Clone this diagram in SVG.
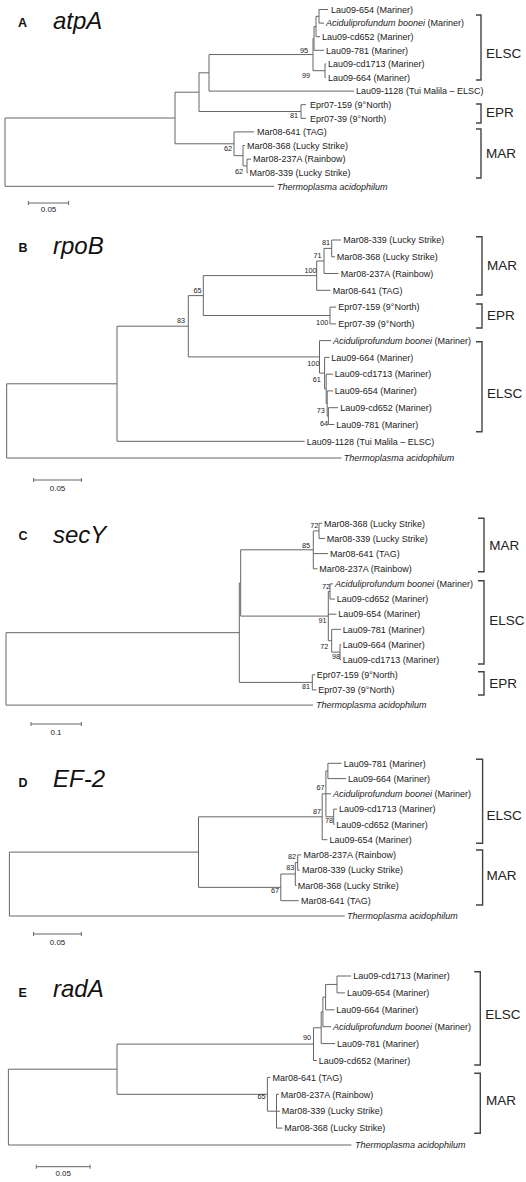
<svg xmlns="http://www.w3.org/2000/svg" width="526" height="1182" viewBox="0 0 526 1182">
<style>
.t{font-family:"Liberation Sans",Arial,sans-serif;font-size:9px;fill:#222}
.i{font-style:italic}
.b{font-family:"Liberation Sans",Arial,sans-serif;font-size:7.3px;fill:#222;text-anchor:end}
.c{font-family:"Liberation Sans",Arial,sans-serif;font-size:13.5px;fill:#222}
.ttl{font-family:"Liberation Sans",Arial,sans-serif;font-size:24px;font-style:italic;fill:#111}
.let{font-family:"Liberation Sans",Arial,sans-serif;font-size:12.5px;font-weight:bold;fill:#111}
.sc{font-family:"Liberation Sans",Arial,sans-serif;font-size:8px;fill:#222;text-anchor:middle}
.br{fill:none;stroke:#444;stroke-width:1.4}
.ln{fill:none;stroke:#666;stroke-width:1}
</style>
<rect width="526" height="1182" fill="#fff"/>

<g id="connectors">
<path id="treeA" class="ln" d="M319,9.5V23.1M319,9.5H328M319,23.1H324M316,16.3V36.7M316,16.3H319M316,36.7H320M314,26.5V50.3M314,26.5H316M314,50.3H324M325,63.9V77.5M325,63.9H326M325,77.5H326M313,38.4V70.7M313,38.4H314M313,70.7H325M209,54.55V91.1M209,54.55H313M209,91.1H354M301,104.7V118.3M301,104.7H306M301,118.3H306M199,72.8V111.5M199,72.8H209M199,111.5H301M247,159.1V172.7M247,159.1H251M247,172.7H248M243,145.5V165.9M243,145.5H245M243,165.9H247M234,131.9V155.7M234,131.9H254M234,155.7H243M175,92.2V143.8M175,92.2H199M175,143.8H234M5,118V186.3M5,118H175M5,186.3H274"/>
<path id="treeB" class="ln" d="M331.7,240V256.8M331.7,240H341M331.7,256.8H335M324,248.4V273.5M324,248.4H331.7M324,273.5H338.5M316.7,261V290.3M316.7,261H324M316.7,290.3H330.5M330,307.1V323.9M330,307.1H336M330,323.9H336M203.3,275.6V315.5M203.3,275.6H316.7M203.3,315.5H330M328.4,407.7V424.5M328.4,407.7H338M328.4,424.5H334.3M327.2,390.9V416.1M327.2,390.9H333M327.2,416.1H328.4M326.2,374.2V403.5M326.2,374.2H333M326.2,403.5H327.2M324.6,357.4V388.9M324.6,357.4H329.5M324.6,388.9H326.2M319.5,340.6V373.1M319.5,340.6H331M319.5,373.1H324.6M188.3,295.6V356.9M188.3,295.6H203.3M188.3,356.9H319.5M117,326.2V441.3M117,326.2H188.3M117,441.3H304.7M6.7,383.8V458M6.7,383.8H117M6.7,458H341.5"/>
<path id="treeC" class="ln" d="M319,523.3V538.45M319,523.3H322M319,538.45H325M313.3,530.9V568.75M313.3,530.9H319M313.3,553.6H328M313.3,568.75H317.5M330,583.9V599.05M330,583.9H333M330,599.05H335M340,644.5V659.65M340,644.5H341M340,659.65H341M331.7,629.35V652.1M331.7,629.35H341M331.7,652.1H340M328.3,591.5V640.7M328.3,591.5H330M328.3,614.2H336.5M328.3,640.7H331.7M240.7,549.8V616.1M240.7,549.8H313.3M240.7,616.1H328.3M312.3,674.8V689.95M312.3,674.8H315M312.3,689.95H316.5M239.3,583V682.4M239.3,583H240.7M239.3,682.4H312.3M6,632.7V705.1M6,632.7H239.3M6,705.1H313"/>
<path id="treeD" class="ln" d="M327.9,763.3V778.6M327.9,763.3H341.5M327.9,778.6H346M333.7,809.1V824.4M333.7,809.1H337M333.7,824.4H334.5M325.9,770.95V816.75M325.9,770.95H327.9M325.9,793.8H331M325.9,816.75H333.7M322.2,793.85V839.7M322.2,793.85H325.9M322.2,839.7H327.4M297.7,854.9V870.2M297.7,854.9H301.2M297.7,870.2H299.7M295.3,862.55V885.5M295.3,862.55H297.7M295.3,885.5H296.6M280.8,874V900.7M280.8,874H295.3M280.8,900.7H298.7M198.5,816.8V887.35M198.5,816.8H322.2M198.5,887.35H280.8M9.4,852.1V916M9.4,852.1H198.5M9.4,916H344.8"/>
<path id="treeE" class="ln" d="M337,976V992.9M337,976H351.1M337,992.9H345M325.6,984.45V1009.8M325.6,984.45H337M325.6,1009.8H334.5M322.9,997.1V1026.7M322.9,997.1H325.6M322.9,1026.7H331M321.2,1011.9V1043.6M321.2,1011.9H322.9M321.2,1043.6H335M313.5,1027.75V1060.5M313.5,1027.75H321.2M313.5,1060.5H316.8M276.5,1094.3V1128.1M276.5,1094.3H279M276.5,1111.2H280M276.5,1128.1H282.5M267.4,1077.4V1111.2M267.4,1077.4H270.4M267.4,1111.2H276.5M117,1044.1V1094.3M117,1044.1H313.5M117,1094.3H267.4M8.4,1069.2V1145M8.4,1069.2H117M8.4,1145H351.4"/>
<path id="scalebars" class="ln" d="M28.3,203H68.6M28.3,201V205M68.6,201V205M33.6,480H81.4M33.6,478V482M81.4,478V482M31,724H81.4M31,722V726M81.4,722V726M33.6,934H81.4M33.6,932V936M81.4,932V936M36.3,1166.7H90.1M36.3,1164.7V1168.7M90.1,1164.7V1168.7"/>
</g>

<!-- Panel A -->
<g id="panelA-title"><text class="let" x="18" y="26.5">A</text><text class="ttl" x="53" y="29">atpA</text></g>
<g id="A-leaves">
<g id="A-lau654"><text class="t" x="331" y="12.7">Lau09-654 (Mariner)</text></g>
<g id="A-acid"><text class="t" x="326" y="26.3"><tspan class="i">Aciduliprofundum boonei</tspan> (Mariner)</text></g>
<g id="A-cd652"><text class="t" x="322" y="39.9">Lau09-cd652 (Mariner)</text></g>
<g id="A-lau781"><text class="t" x="326" y="53.5">Lau09-781 (Mariner)</text></g>
<g id="A-cd1713"><text class="t" x="328" y="67.1">Lau09-cd1713 (Mariner)</text></g>
<g id="A-lau664"><text class="t" x="328" y="80.7">Lau09-664 (Mariner)</text></g>
<g id="A-lau1128"><text class="t" x="356" y="94.3">Lau09-1128 (Tui Malila – ELSC)</text></g>
<g id="A-epr159"><text class="t" x="310" y="107.9">Epr07-159 (9°North)</text></g>
<g id="A-epr39"><text class="t" x="310" y="121.5">Epr07-39 (9°North)</text></g>
<g id="A-mar641"><text class="t" x="257" y="135.1">Mar08-641 (TAG)</text></g>
<g id="A-mar368"><text class="t" x="247" y="148.7">Mar08-368 (Lucky Strike)</text></g>
<g id="A-mar237"><text class="t" x="253" y="162.3">Mar08-237A (Rainbow)</text></g>
<g id="A-mar339"><text class="t" x="249.5" y="175.9">Mar08-339 (Lucky Strike)</text></g>
<g id="A-thermo"><text class="t i" x="277" y="189.5">Thermoplasma acidophilum</text></g>
</g>
<g id="A-boot"><text class="b" x="308" y="52.5">95</text><text class="b" x="310" y="77.5">99</text><text class="b" x="298" y="117.5">81</text><text class="b" x="232" y="150.8">62</text><text class="b" x="243" y="173.5">62</text></g>
<g id="A-ELSC"><path class="br" d="M476,15H481V80H476"/><text class="c" x="486" y="57.7">ELSC</text></g>
<g id="A-EPR"><path class="br" d="M476,104H481V123H476"/><text class="c" x="486" y="116.7">EPR</text></g>
<g id="A-MAR"><path class="br" d="M476,129H481V178H476"/><text class="c" x="486" y="157.7">MAR</text></g>
<g id="A-scale"><text class="sc" x="48.5" y="212">0.05</text></g>

<!-- Panel B -->
<g id="panelB-title"><text class="let" x="18.5" y="252">B</text><text class="ttl" x="53" y="254">rpoB</text></g>
<g id="B-leaves">
<g id="B-mar339"><text class="t" x="343.3" y="243.2">Mar08-339 (Lucky Strike)</text></g>
<g id="B-mar368"><text class="t" x="336.7" y="260">Mar08-368 (Lucky Strike)</text></g>
<g id="B-mar237"><text class="t" x="340.7" y="276.7">Mar08-237A (Rainbow)</text></g>
<g id="B-mar641"><text class="t" x="332.7" y="293.5">Mar08-641 (TAG)</text></g>
<g id="B-epr159"><text class="t" x="338.3" y="310.3">Epr07-159 (9°North)</text></g>
<g id="B-epr39"><text class="t" x="338.3" y="327.1">Epr07-39 (9°North)</text></g>
<g id="B-acid"><text class="t" x="333" y="343.8"><tspan class="i">Aciduliprofundum boonei</tspan> (Mariner)</text></g>
<g id="B-lau664"><text class="t" x="331.3" y="360.6">Lau09-664 (Mariner)</text></g>
<g id="B-cd1713"><text class="t" x="334.7" y="377.4">Lau09-cd1713 (Mariner)</text></g>
<g id="B-lau654"><text class="t" x="334.7" y="394.1">Lau09-654 (Mariner)</text></g>
<g id="B-cd652"><text class="t" x="340.3" y="410.9">Lau09-cd652 (Mariner)</text></g>
<g id="B-lau781"><text class="t" x="336.3" y="427.7">Lau09-781 (Mariner)</text></g>
<g id="B-lau1128"><text class="t" x="306.7" y="444.5">Lau09-1128 (Tui Malila – ELSC)</text></g>
<g id="B-thermo"><text class="t i" x="343.8" y="461.2">Thermoplasma acidophilum</text></g>
</g>
<g id="B-boot"><text class="b" x="330" y="244.8">81</text><text class="b" x="321.7" y="257.5">71</text><text class="b" x="316.7" y="272.5">100</text><text class="b" x="201.7" y="293.2">65</text><text class="b" x="328.3" y="324.8">100</text><text class="b" x="185" y="322.5">83</text><text class="b" x="319.5" y="365.8">100</text><text class="b" x="320.9" y="381.5">61</text><text class="b" x="324.9" y="412.5">73</text><text class="b" x="328" y="425.5">64</text></g>
<g id="B-MAR"><path class="br" d="M476,236.7H482V295H476"/><text class="c" x="487" y="269.7">MAR</text></g>
<g id="B-EPR"><path class="br" d="M476,304H482V328H476"/><text class="c" x="487" y="319.7">EPR</text></g>
<g id="B-ELSC"><path class="br" d="M476,341.7H482V431.7H476"/><text class="c" x="487" y="398">ELSC</text></g>
<g id="B-scale"><text class="sc" x="57.5" y="491">0.05</text></g>

<!-- Panel C -->
<g id="panelC-title"><text class="let" x="18.5" y="540">C</text><text class="ttl" x="53" y="543">secY</text></g>
<g id="C-leaves">
<g id="C-mar368"><text class="t" x="324" y="526.5">Mar08-368 (Lucky Strike)</text></g>
<g id="C-mar339"><text class="t" x="326.7" y="541.65">Mar08-339 (Lucky Strike)</text></g>
<g id="C-mar641"><text class="t" x="330" y="556.8">Mar08-641 (TAG)</text></g>
<g id="C-mar237"><text class="t" x="319.3" y="571.95">Mar08-237A (Rainbow)</text></g>
<g id="C-acid"><text class="t" x="335" y="587.1"><tspan class="i">Aciduliprofundum boonei</tspan> (Mariner)</text></g>
<g id="C-cd652"><text class="t" x="336.7" y="602.25">Lau09-cd652 (Mariner)</text></g>
<g id="C-lau654"><text class="t" x="338.3" y="617.4">Lau09-654 (Mariner)</text></g>
<g id="C-lau781"><text class="t" x="342.7" y="632.55">Lau09-781 (Mariner)</text></g>
<g id="C-lau664"><text class="t" x="342.7" y="647.7">Lau09-664 (Mariner)</text></g>
<g id="C-cd1713"><text class="t" x="342.7" y="662.85">Lau09-cd1713 (Mariner)</text></g>
<g id="C-epr159"><text class="t" x="316.7" y="678">Epr07-159 (9°North)</text></g>
<g id="C-epr39"><text class="t" x="318.3" y="693.15">Epr07-39 (9°North)</text></g>
<g id="C-thermo"><text class="t i" x="316" y="708.3">Thermoplasma acidophilum</text></g>
</g>
<g id="C-boot"><text class="b" x="318.3" y="527.5">72</text><text class="b" x="310" y="547.5">85</text><text class="b" x="330" y="588.5">72</text><text class="b" x="326.7" y="622.5">91</text><text class="b" x="328.3" y="648.5">72</text><text class="b" x="340" y="659.2">98</text><text class="b" x="310" y="689.2">81</text></g>
<g id="C-MAR"><path class="br" d="M478,518.3H484V571.7H478"/><text class="c" x="489.3" y="549.7">MAR</text></g>
<g id="C-ELSC"><path class="br" d="M478,580.7H484V664H478"/><text class="c" x="489.3" y="624.7">ELSC</text></g>
<g id="C-EPR"><path class="br" d="M478,671.7H484V695H478"/><text class="c" x="489.3" y="688">EPR</text></g>
<g id="C-scale"><text class="sc" x="56" y="735.3">0.1</text></g>

<!-- Panel D -->
<g id="panelD-title"><text class="let" x="18.5" y="787">D</text><text class="ttl" x="53" y="787">EF-2</text></g>
<g id="D-leaves">
<g id="D-lau781"><text class="t" x="343.8" y="766.5">Lau09-781 (Mariner)</text></g>
<g id="D-lau664"><text class="t" x="348" y="781.8">Lau09-664 (Mariner)</text></g>
<g id="D-acid"><text class="t" x="333" y="797"><tspan class="i">Aciduliprofundum boonei</tspan> (Mariner)</text></g>
<g id="D-cd1713"><text class="t" x="339" y="812.3">Lau09-cd1713 (Mariner)</text></g>
<g id="D-cd652"><text class="t" x="336.3" y="827.6">Lau09-cd652 (Mariner)</text></g>
<g id="D-lau654"><text class="t" x="329.6" y="842.9">Lau09-654 (Mariner)</text></g>
<g id="D-mar237"><text class="t" x="303.4" y="858.1">Mar08-237A (Rainbow)</text></g>
<g id="D-mar339"><text class="t" x="302" y="873.4">Mar08-339 (Lucky Strike)</text></g>
<g id="D-mar368"><text class="t" x="297.7" y="888.7">Mar08-368 (Lucky Strike)</text></g>
<g id="D-mar641"><text class="t" x="301" y="903.9">Mar08-641 (TAG)</text></g>
<g id="D-thermo"><text class="t i" x="347.1" y="919.2">Thermoplasma acidophilum</text></g>
</g>
<g id="D-boot"><text class="b" x="324.6" y="789.8">67</text><text class="b" x="321.2" y="814.2">87</text><text class="b" x="333" y="822.5">78</text><text class="b" x="296" y="858.5">82</text><text class="b" x="294.3" y="869.8">83</text><text class="b" x="279.2" y="893.2">67</text></g>
<g id="D-ELSC"><path class="br" d="M476,759.3H482.6V843.3H476"/><text class="c" x="486.5" y="819.7">ELSC</text></g>
<g id="D-MAR"><path class="br" d="M476,850H482.6V905H476"/><text class="c" x="486.5" y="879.7">MAR</text></g>
<g id="D-scale"><text class="sc" x="57.5" y="944.8">0.05</text></g>

<!-- Panel E -->
<g id="panelE-title"><text class="let" x="18.5" y="997">E</text><text class="ttl" x="53" y="997">radA</text></g>
<g id="E-leaves">
<g id="E-cd1713"><text class="t" x="353.2" y="979.2">Lau09-cd1713 (Mariner)</text></g>
<g id="E-lau654"><text class="t" x="347.1" y="996.1">Lau09-654 (Mariner)</text></g>
<g id="E-lau664"><text class="t" x="336.3" y="1013">Lau09-664 (Mariner)</text></g>
<g id="E-acid"><text class="t" x="333" y="1029.9"><tspan class="i">Aciduliprofundum boonei</tspan> (Mariner)</text></g>
<g id="E-lau781"><text class="t" x="337" y="1046.8">Lau09-781 (Mariner)</text></g>
<g id="E-cd652"><text class="t" x="318.8" y="1063.7">Lau09-cd652 (Mariner)</text></g>
<g id="E-mar641"><text class="t" x="272.4" y="1080.6">Mar08-641 (TAG)</text></g>
<g id="E-mar237"><text class="t" x="280.8" y="1097.5">Mar08-237A (Rainbow)</text></g>
<g id="E-mar339"><text class="t" x="281.8" y="1114.4">Mar08-339 (Lucky Strike)</text></g>
<g id="E-mar368"><text class="t" x="284.2" y="1131.3">Mar08-368 (Lucky Strike)</text></g>
<g id="E-thermo"><text class="t i" x="354.9" y="1148.2">Thermoplasma acidophilum</text></g>
</g>
<g id="E-boot"><text class="b" x="311" y="1039.8">90</text><text class="b" x="265.7" y="1099.2">65</text></g>
<g id="E-ELSC"><path class="br" d="M474.2,971.7H480.3V1065H474.2"/><text class="c" x="485.3" y="1018.7">ELSC</text></g>
<g id="E-MAR"><path class="br" d="M474.2,1073.3H480.3V1133.3H474.2"/><text class="c" x="486" y="1104.7">MAR</text></g>
<g id="E-scale"><text class="sc" x="63.2" y="1176">0.05</text></g>
</svg>
